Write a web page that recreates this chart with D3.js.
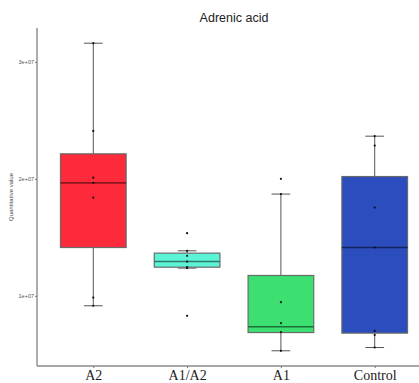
<!DOCTYPE html>
<html>
<head>
<meta charset="utf-8">
<script src="https://cdn.jsdelivr.net/npm/d3@7"></script>
<style>
  body { margin: 0; background: #fff; }
  svg { display: block; }
</style>
</head>
<body>
<svg id="chart"></svg>
<script>
// -- DATA --
const groups = ["A2", "A1/A2", "A1", "Control"];
const colors = ["#fd2a3b", "#5cf4d6", "#3be070", "#2b4dbd"];
const medianColors = ["#8c1520", "#2d7a6a", "#1d6f38", "#14265e"];
const whiskerLow = [0.915e7, 1.237e7, 0.53e7, 0.558e7];
const quart1 = [1.413e7, 1.245e7, 0.686e7, 0.681e7];
const medians = [1.966e7, 1.293e7, 0.735e7, 1.413e7];
const quart3 = [2.214e7, 1.365e7, 1.174e7, 2.02e7];
const whiskerHigh = [3.16e7, 1.385e7, 1.87e7, 2.365e7];
const points = [
  [3.16e7, 2.41e7, 2.01e7, 1.966e7, 1.84e7, 0.985e7, 0.915e7],
  [1.536e7, 1.385e7, 1.342e7, 1.293e7, 1.245e7, 1.237e7, 0.829e7],
  [2.0e7, 1.87e7, 0.946e7, 0.767e7, 0.69e7, 0.53e7],
  [2.365e7, 2.285e7, 1.755e7, 1.413e7, 0.70e7, 0.665e7, 0.558e7]
];
const yTicks = [1e7, 2e7, 3e7];
const yTickLabels = ["1e+07", "2e+07", "3e+07"];

// -- LAYOUT --
const W = 419, H = 383;
const plot = { left: 37, right: 431, top: 28, bottom: 366 };

const svg = d3.select("#chart").attr("width", W).attr("height", H);

const x = d3.scalePoint()
  .domain(groups)
  .range([plot.left, plot.right])
  .padding(0.6);
const step = x.step();
const boxW = step * 0.7;
const capW = step * 0.2;

const y = d3.scaleLinear()
  .domain([0.4e7, 3.29e7])
  .range([plot.bottom, plot.top]);

// boxes
const rows = groups.map((g, i) => ({
  g, i,
  lo: whiskerLow[i], q1: quart1[i], med: medians[i], q3: quart3[i], hi: whiskerHigh[i],
  pts: points[i]
}));

const box = svg.append("g").selectAll("g").data(rows).enter().append("g");

// whiskers
box.append("line")
  .attr("x1", d => x(d.g)).attr("x2", d => x(d.g))
  .attr("y1", d => y(d.hi)).attr("y2", d => y(d.q3))
  .attr("stroke", "#555").attr("stroke-width", 1);
box.append("line")
  .attr("x1", d => x(d.g)).attr("x2", d => x(d.g))
  .attr("y1", d => y(d.q1)).attr("y2", d => y(d.lo))
  .attr("stroke", "#555").attr("stroke-width", 1);
// caps
box.append("line")
  .attr("x1", d => x(d.g) - capW / 2).attr("x2", d => x(d.g) + capW / 2)
  .attr("y1", d => y(d.hi)).attr("y2", d => y(d.hi))
  .attr("stroke", "#555").attr("stroke-width", 1);
box.append("line")
  .attr("x1", d => x(d.g) - capW / 2).attr("x2", d => x(d.g) + capW / 2)
  .attr("y1", d => y(d.lo)).attr("y2", d => y(d.lo))
  .attr("stroke", "#555").attr("stroke-width", 1);

box.append("rect")
  .attr("x", d => x(d.g) - boxW / 2)
  .attr("width", boxW)
  .attr("y", d => y(d.q3))
  .attr("height", d => y(d.q1) - y(d.q3))
  .attr("fill", d => colors[d.i])
  .attr("stroke", "#6a6a6a")
  .attr("stroke-width", 1.2);

box.append("line")
  .attr("x1", d => x(d.g) - boxW / 2).attr("x2", d => x(d.g) + boxW / 2)
  .attr("y1", d => y(d.med)).attr("y2", d => y(d.med))
  .attr("stroke", d => medianColors[d.i]).attr("stroke-width", 1.6);

// points
box.selectAll("circle")
  .data(d => d.pts.map(v => ({ g: d.g, v })))
  .enter().append("circle")
  .attr("cx", d => x(d.g))
  .attr("cy", d => y(d.v))
  .attr("r", 1.1)
  .attr("fill", "#111");

// axes
svg.append("line")
  .attr("x1", plot.left).attr("x2", plot.left)
  .attr("y1", plot.top).attr("y2", plot.bottom)
  .attr("stroke", "#8a8a8a").attr("stroke-width", 1.4);
svg.append("line")
  .attr("x1", plot.left).attr("x2", W)
  .attr("y1", plot.bottom).attr("y2", plot.bottom)
  .attr("stroke", "#8a8a8a").attr("stroke-width", 1.4);

const yAxis = svg.append("g")
  .attr("transform", `translate(${plot.left},0)`)
  .call(d3.axisLeft(y).tickValues(yTicks).tickSize(2).tickPadding(1)
    .tickFormat((d, i) => yTickLabels[i]));
yAxis.select(".domain").remove();
yAxis.selectAll("line").attr("stroke", "#777");
yAxis.selectAll("text")
  .attr("fill", "#555")
  .style("font-family", "'Liberation Sans', Arial, sans-serif")
  .style("font-size", "5.5px");

const xAxis = svg.append("g")
  .attr("transform", `translate(0,${plot.bottom})`)
  .call(d3.axisBottom(x).tickSize(2).tickPadding(2));
xAxis.select(".domain").remove();
xAxis.selectAll("line").attr("stroke", "#777");
xAxis.selectAll("text")
  .attr("fill", "#222")
  .style("font-family", "'Liberation Serif', 'Times New Roman', serif")
  .style("font-size", "14px");

// title & y label
svg.append("text")
  .attr("x", 234).attr("y", 22)
  .attr("text-anchor", "middle")
  .style("font-family", "'Liberation Sans', Arial, sans-serif")
  .style("font-size", "12.5px")
  .attr("fill", "#222")
  .text("Adrenic acid");

svg.append("text")
  .attr("transform", `translate(13,${(plot.top + plot.bottom) / 2}) rotate(-90)`)
  .attr("text-anchor", "middle")
  .style("font-family", "'Liberation Sans', Arial, sans-serif")
  .style("font-size", "6px")
  .attr("fill", "#444")
  .text("Quantitative value");
</script>
</body>
</html>
